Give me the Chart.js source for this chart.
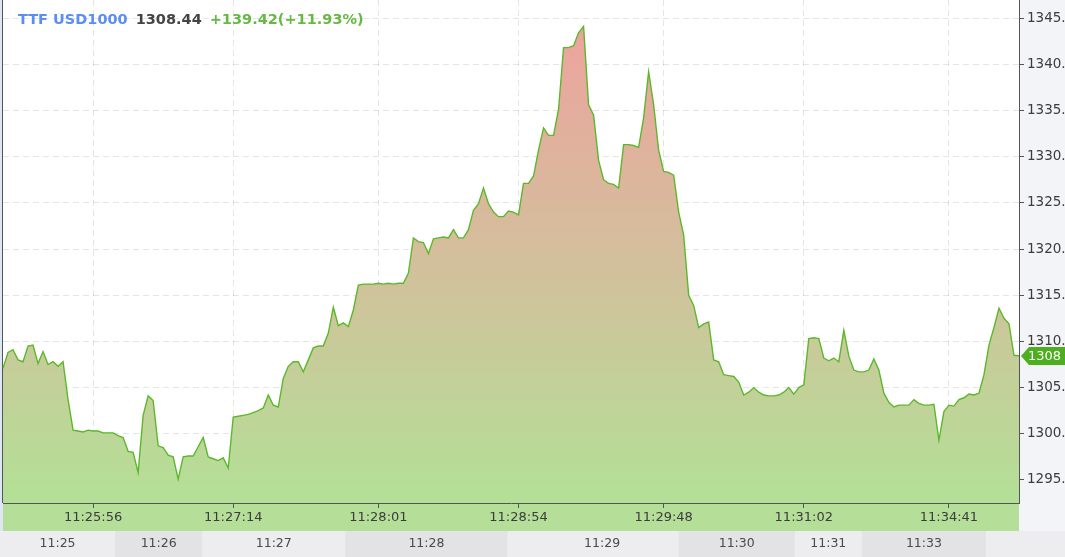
<!DOCTYPE html>
<html>
<head>
<meta charset="utf-8">
<title>TTF USD1000</title>
<script src="https://cdn.jsdelivr.net/npm/chart.js@4.4.0/dist/chart.umd.min.js"></script>
<style>
    html, body { margin: 0; padding: 0; background: #f3f4f7; }
    #wrap { width: 1065px; height: 557px; position: relative; }
</style>
</head>
<body>
<div id="wrap"><canvas id="priceChart"></canvas></div>
<script>
// precios (uno cada ~5 px en el original)
const prices = [
    1307.1, 1308.8, 1309.1, 1308.0, 1307.8, 1309.5, 1309.6, 1307.6, 1308.9, 1307.5, 1307.8, 1307.3, 1307.8, 1303.7, 1300.4, 1300.3, 1300.2, 1300.4, 1300.3, 1300.3,
    1300.1, 1300.1, 1300.1, 1299.8, 1299.6, 1298.1, 1298.0, 1295.8, 1302.0, 1304.1, 1303.6, 1298.7, 1298.5, 1297.7, 1297.5, 1295.1, 1297.5, 1297.6, 1297.6, 1298.6,
    1299.6, 1297.5, 1297.3, 1297.1, 1297.4, 1296.3, 1301.8, 1301.9, 1302.0, 1302.1, 1302.3, 1302.5, 1302.8, 1304.2, 1303.1, 1302.9, 1306.0, 1307.3, 1307.8, 1307.8,
    1306.7, 1308.0, 1309.3, 1309.5, 1309.5, 1310.9, 1313.7, 1311.7, 1312.0, 1311.6, 1313.4, 1316.1, 1316.2, 1316.2, 1316.2, 1316.3, 1316.2, 1316.3, 1316.2, 1316.3,
    1316.3, 1317.4, 1321.2, 1320.8, 1320.7, 1319.5, 1321.1, 1321.2, 1321.3, 1321.2, 1322.1, 1321.2, 1321.2, 1322.1, 1324.2, 1324.9, 1326.6, 1324.9, 1324.0, 1323.5,
    1323.5, 1324.1, 1324.0, 1323.7, 1327.1, 1327.1, 1327.9, 1330.7, 1333.1, 1332.3, 1332.3, 1335.1, 1341.8, 1341.8, 1342.0, 1343.4, 1344.1, 1335.6, 1334.5, 1329.6,
    1327.5, 1327.1, 1327.0, 1326.6, 1331.3, 1331.3, 1331.2, 1331.0, 1334.2, 1339.2, 1335.6, 1330.7, 1328.4, 1328.3, 1328.0, 1324.0, 1321.5, 1315.0, 1313.9, 1311.5,
    1311.9, 1312.1, 1308.0, 1307.8, 1306.4, 1306.3, 1306.2, 1305.6, 1304.2, 1304.5, 1305.0, 1304.5, 1304.2, 1304.1, 1304.1, 1304.2, 1304.5, 1305.0, 1304.3, 1305.0,
    1305.3, 1310.3, 1310.4, 1310.3, 1308.2, 1307.9, 1308.2, 1307.8, 1311.2, 1308.4, 1306.9, 1306.7, 1306.7, 1306.9, 1308.1, 1306.9, 1304.4, 1303.4, 1302.9, 1303.1,
    1303.1, 1303.1, 1303.7, 1303.3, 1303.1, 1303.1, 1303.2, 1299.3, 1302.4, 1303.1, 1303.0, 1303.7, 1303.9, 1304.3, 1304.2, 1304.4, 1306.4, 1309.6, 1311.5, 1313.6,
    1312.5, 1311.9, 1308.5, 1308.44
];
const labels = prices.map((p, i) => i);

// etiquetas del eje x (posicion = indice del punto)
const tickIndex = [18, 46, 75, 103, 132, 160, 189];
const tickLabels = ['11:25:56', '11:27:14', '11:28:01', '11:28:54', '11:29:48', '11:31:02', '11:34:41'];

// fila de minutos de abajo: limites en indices de punto
const minuteEdges = [-1, 22.4, 39.8, 68.4, 100.8, 135, 158.2, 171.6, 196.4];
const minuteLabels = ['11:25', '11:26', '11:27', '11:28', '11:29', '11:30', '11:31', '11:33'];

const symbol = 'TTF USD1000';
const lastPrice = '1308.44';
const change = '+139.42(+11.93%)';

Chart.defaults.font.family = "'DejaVu Sans', sans-serif";
Chart.defaults.font.size = 13;

const H = 557, W = 1065, AXIS_H = 28;

const backgrounds = {
    id: 'backgrounds',
    beforeDraw(chart) {
        const ctx = chart.ctx;
        const a = chart.chartArea;
        const xs = chart.scales.x;
        ctx.save();
        ctx.fillStyle = '#f3f4f7';
        ctx.fillRect(0, 0, W, H);
        ctx.fillStyle = '#dde7f3';
        ctx.fillRect(0, 0, a.left, a.bottom + AXIS_H);
        ctx.fillStyle = '#ffffff';
        ctx.fillRect(a.left, 0, a.right - a.left, a.bottom);
        ctx.fillStyle = '#b5de99';
        ctx.fillRect(a.left, a.bottom, a.right - a.left, AXIS_H);

        // fila de minutos
        const rowTop = a.bottom + AXIS_H;
        ctx.fillStyle = '#ededef';
        ctx.fillRect(0, rowTop, W, H - rowTop);
        ctx.font = "12.5px 'DejaVu Sans'";
        ctx.textAlign = 'center';
        ctx.textBaseline = 'middle';
        for (let i = 0; i < minuteLabels.length; i++) {
            const x0 = i === 0 ? 0 : xs.getPixelForValue(minuteEdges[i]);
            const x1 = xs.getPixelForValue(minuteEdges[i + 1]);
            if (i % 2 === 1) {
                ctx.fillStyle = '#e3e3e5';
                ctx.fillRect(x0, rowTop, x1 - x0, H - rowTop);
            }
            ctx.fillStyle = '#4a4a4a';
            // 11:29 va un poco corrido a la derecha en el original
            const cx = i === 4 ? (x0 + x1) / 2 + 9 : (x0 + x1) / 2;
            ctx.fillText(minuteLabels[i], cx, rowTop + 13);
        }

        // borde izquierdo
        ctx.strokeStyle = '#555';
        ctx.lineWidth = 1;
        ctx.beginPath();
        ctx.moveTo(a.left - 0.5, 0);
        ctx.lineTo(a.left - 0.5, a.bottom);
        ctx.stroke();
        ctx.restore();
    },
    afterDraw(chart) {
        const ctx = chart.ctx;
        const a = chart.chartArea;
        ctx.save();

        // titulo
        ctx.font = "bold 14.5px 'DejaVu Sans'";
        ctx.textBaseline = 'alphabetic';
        ctx.textAlign = 'left';
        let x = 18;
        const parts = [[symbol, '#5b8ef2'], [lastPrice, '#444444'], [change, '#66b943']];
        parts.forEach(([t, c]) => {
            ctx.fillStyle = c;
            ctx.fillText(t, x, 24);
            x += ctx.measureText(t).width + 8;
        });

        // etiqueta del ultimo precio
        const pts = chart.getDatasetMeta(0).data;
        const y = Math.round(pts[pts.length - 1].y);
        const tip = a.right + 2;
        ctx.fillStyle = '#4dae20';
        ctx.beginPath();
        ctx.moveTo(tip, y);
        ctx.lineTo(tip + 8, y - 9);
        ctx.lineTo(W, y - 9);
        ctx.lineTo(W, y + 9);
        ctx.lineTo(tip + 8, y + 9);
        ctx.closePath();
        ctx.fill();
        ctx.fillStyle = '#ffffff';
        ctx.font = "13px 'DejaVu Sans'";
        ctx.textBaseline = 'middle';
        ctx.fillText(String(Math.floor(prices[prices.length - 1])), tip + 7, y + 1);
        ctx.restore();
    }
};

function areaGradient(context) {
    const { chart } = context;
    const a = chart.chartArea;
    if (!a) return 'rgba(180,224,150,1)';
    const g = chart.ctx.createLinearGradient(0, a.top, 0, a.bottom);
    g.addColorStop(0, 'rgb(240,160,158)');
    g.addColorStop(0.5, 'rgb(212,190,156)');
    g.addColorStop(1, 'rgb(179,224,150)');
    return g;
}

new Chart(document.getElementById('priceChart'), {
    type: 'line',
    data: {
        labels,
        datasets: [{
            data: prices,
            borderColor: '#5cb82a',
            borderWidth: 1.4,
            backgroundColor: areaGradient,
            fill: 'start',
            pointRadius: 0,
            tension: 0
        }]
    },
    options: {
        responsive: true,
        maintainAspectRatio: false,
        animation: false,
        layout: { padding: { left: 3, top: 0, right: 0, bottom: 26 } },
        plugins: { legend: { display: false }, tooltip: { enabled: false } },
        scales: {
            x: {
                type: 'category',
                offset: false,
                grid: { color: 'rgba(0,0,0,0.1)', tickColor: '#555', tickLength: 5 },
                border: { color: '#555', dash: [6, 4] },
                ticks: {
                    autoSkip: false,
                    maxRotation: 0,
                    padding: 2,
                    color: '#3c3c3c',
                    callback: v => tickLabels[tickIndex.indexOf(v)]
                },
                afterBuildTicks: s => { s.ticks = tickIndex.map(v => ({ value: v })); },
                afterFit: s => { s.height = AXIS_H; }
            },
            y: {
                position: 'right',
                min: 1292.51,
                max: 1346.95,
                grid: { color: 'rgba(0,0,0,0.1)', tickColor: '#555', tickLength: 5 },
                border: { color: '#555', dash: [6, 4] },
                ticks: {
                    stepSize: 5,
                    includeBounds: false,
                    padding: 3,
                    color: '#3c3c3c',
                    font: { size: 13.5 },
                    callback: v => v.toFixed(2)
                },
                afterFit: s => {
                    s.width = 46;
                    s.paddingTop = 0;
                    s.paddingBottom = 0;
                }
            }
        }
    },
    plugins: [backgrounds]
});
</script>
</body>
</html>
